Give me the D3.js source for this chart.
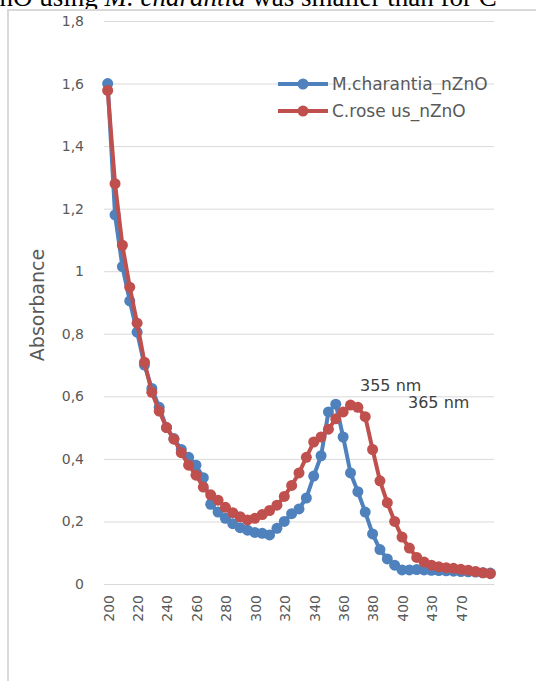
<!DOCTYPE html>
<html>
<head>
<meta charset="utf-8">
<script src="https://cdn.jsdelivr.net/npm/d3@7"></script>
<style>
  html, body { margin: 0; padding: 0; background: #fff; }
  svg { display: block; }
</style>
</head>
<body>
<script>
// wavelength categories (nm), Excel category axis
const categories = [
  '200', '205', '210', '215', '220', '225', '230', '235', '240', '245',
  '250', '255', '260', '265', '270', '275', '280', '285', '290', '295',
  '300', '305', '310', '315', '320', '325', '330', '335', '340', '345',
  '350', '355', '360', '365', '370', '375', '380', '385', '390', '395',
  '400', '405', '410', '420', '430', '440', '450', '460', '470', '480',
  '490', '500', '510'
];

const charantia = [
  1.60, 1.18, 1.015, 0.905, 0.805, 0.70, 0.625, 0.565, 0.50, 0.465,
  0.43, 0.405, 0.38, 0.34, 0.255, 0.23, 0.21, 0.193, 0.18, 0.172,
  0.165, 0.162, 0.157, 0.178, 0.20, 0.225, 0.24, 0.275, 0.345, 0.41,
  0.55, 0.575, 0.47, 0.355, 0.295, 0.23, 0.16, 0.11, 0.08, 0.06,
  0.045, 0.045, 0.046, 0.045, 0.044, 0.043, 0.042, 0.041, 0.04, 0.039,
  0.038, 0.036, 0.035
];

const roseus = [
  1.578, 1.28, 1.083, 0.949, 0.834, 0.709, 0.613, 0.553, 0.50, 0.463,
  0.42, 0.38, 0.348, 0.31, 0.285, 0.268, 0.245, 0.228, 0.215, 0.205,
  0.21, 0.222, 0.235, 0.252, 0.28, 0.315, 0.355, 0.405, 0.454, 0.47,
  0.495, 0.528, 0.55, 0.572, 0.565, 0.535, 0.43, 0.33, 0.26, 0.20,
  0.15, 0.115, 0.085, 0.07, 0.06, 0.055, 0.052, 0.05, 0.047, 0.044,
  0.04, 0.036, 0.033
];

const xTickLabels = ['200', '220', '240', '260', '280', '300', '320', '340', '360', '380', '400', '430', '470'];
const yTicks = [0, 0.2, 0.4, 0.6, 0.8, 1, 1.2, 1.4, 1.6, 1.8];

const seriesNames = ['M.charantia_nZnO', 'C.rose us_nZnO'];
const seriesColors = ['#4f81bd', '#c0504d'];

const peakLabels = ['355 nm', '365 nm'];

const width = 536;
const height = 681;
const plotLeft = 104;
const plotRight = 494;
const plotTop = 21;
const plotBottom = 584;

const textColor = '#595959';
const gridColor = '#d9d9d9';
const font = '"DejaVu Sans", sans-serif';

const svg = d3.select('body').append('svg')
  .attr('width', width)
  .attr('height', height)
  .attr('viewBox', [0, 0, width, height]);

// paper text clipped at the top of the figure
svg.append('text')
  .attr('x', -17)
  .attr('y', 6)
  .attr('font-family', '"Liberation Serif", serif')
  .attr('font-size', 27)
  .attr('fill', '#000')
  .call((t) => {
    t.append('tspan').text('ZnO using ');
    t.append('tspan').attr('font-style', 'italic').text('M. charantia');
    t.append('tspan').text(' was smaller than for C');
  });

// chart frame
svg.append('rect')
  .attr('x', 8)
  .attr('y', 10)
  .attr('width', width + 20)
  .attr('height', height + 20)
  .attr('fill', 'white')
  .attr('stroke', gridColor)
  .attr('stroke-width', 2);

const x = d3.scaleBand()
  .domain(categories)
  .range([plotLeft, plotRight])
  .padding(0);

const cx = (c) => x(c) + x.bandwidth() / 2;

const y = d3.scaleLinear()
  .domain([0, 1.8])
  .range([plotBottom, plotTop]);

// gridlines + y labels
const gAxisLeft = svg.append('g')
  .attr('transform', `translate(${plotLeft},0)`)
  .call(d3.axisLeft(y)
    .tickValues(yTicks)
    .tickSize(-(plotRight - plotLeft))
    .tickPadding(20)
    .tickFormat((d) => String(d).replace('.', ',')))
  .call((g) => g.select('.domain').remove());

gAxisLeft.selectAll('.tick line').attr('stroke', gridColor).attr('stroke-width', 1);
gAxisLeft.selectAll('.tick text')
  .attr('fill', textColor)
  .attr('font-family', font)
  .attr('font-size', 14);

// x axis, a label on every 4th category
const gAxisBottom = svg.append('g')
  .attr('transform', `translate(0,${plotBottom})`)
  .call(d3.axisBottom(x).tickValues(xTickLabels).tickSize(0))
  .call((g) => g.select('.domain').attr('stroke', gridColor));

gAxisBottom.selectAll('.tick text')
  .attr('fill', textColor)
  .attr('font-family', font)
  .attr('font-size', 14)
  .attr('text-anchor', 'end')
  .attr('dy', '0.35em')
  .attr('transform', 'translate(1,11) rotate(-90)')
  .attr('x', 0)
  .attr('y', 0);

svg.append('text')
  .attr('transform', `translate(44,305) rotate(-90)`)
  .attr('text-anchor', 'middle')
  .attr('fill', textColor)
  .attr('font-family', font)
  .attr('font-size', 19)
  .text('Absorbance');

const line = d3.line()
  .x((d, i) => cx(categories[i]))
  .y((d) => y(d));

[charantia, roseus].forEach((values, k) => {
  const g = svg.append('g');
  g.append('path')
    .datum(values)
    .attr('fill', 'none')
    .attr('stroke', seriesColors[k])
    .attr('stroke-width', 4)
    .attr('stroke-linejoin', 'round')
    .attr('d', line);
  g.selectAll('circle')
    .data(values)
    .join('circle')
    .attr('cx', (d, i) => cx(categories[i]))
    .attr('cy', (d) => y(d))
    .attr('r', 5.5)
    .attr('fill', seriesColors[k]);
});

// peak annotations
const annot = svg.append('g')
  .attr('fill', '#404040')
  .attr('font-family', font)
  .attr('font-size', 16);
annot.append('text').attr('x', 360).attr('y', 391).text(peakLabels[0]);
annot.append('text').attr('x', 408).attr('y', 408).text(peakLabels[1]);

// legend
const legend = svg.append('g')
  .attr('font-family', font)
  .attr('font-size', 17)
  .attr('fill', textColor);

seriesNames.forEach((name, k) => {
  const ly = 84 + k * 27;
  legend.append('line')
    .attr('x1', 278).attr('x2', 328)
    .attr('y1', ly).attr('y2', ly)
    .attr('stroke', seriesColors[k])
    .attr('stroke-width', 4);
  legend.append('circle')
    .attr('cx', 303).attr('cy', ly).attr('r', 5.5)
    .attr('fill', seriesColors[k]);
  legend.append('text')
    .attr('x', 332).attr('y', ly)
    .attr('dy', '0.35em')
    .text(name);
});
</script>
</body>
</html>
